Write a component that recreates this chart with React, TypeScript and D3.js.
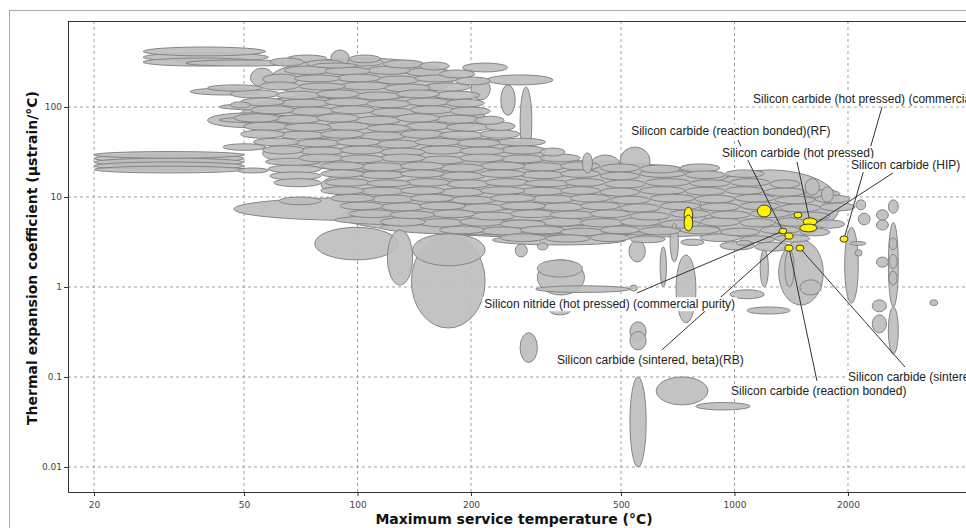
import React, { useEffect, useRef } from 'react';
import * as d3 from 'd3';

// [tMin, tMax, cteMin, cteMax] : max service temperature (°C), thermal expansion (µstrain/°C)
type Range = [number, number, number, number];

const tempTicks = [20, 50, 100, 200, 500, 1000, 2000];
const cteTicks = [0.01, 0.1, 1, 10, 100];
const cteTickLabels = ['0.01', '0.1', '1', '10', '100'];

const familyEnvelopes: Range[] = [
  [58.6, 180, 120, 350], [48.8, 217, 43, 147], [56, 315, 19, 49], [80, 1034, 7.2, 25.8],
  [90, 1850, 3.5, 10.5], [345, 915, 3.78, 22.7], [810, 1905, 3.33, 20],
];

const foams: Range[] = [
  [27, 57, 370, 464], [27, 58, 320, 400], [27, 55, 285, 350], [35, 70, 285, 333],
  [20, 50, 27, 32], [20, 50, 24, 30], [20, 50, 22, 27], [20, 50, 20, 24.5], [20, 50, 18.5, 22],
  [48, 58, 18.5, 21], [44, 57, 33, 39],
];

const polymerEdge: Range[] = [
  [36, 55, 136, 162], [40, 56, 150, 176], [43, 80, 92, 110], [40, 67, 59, 86], [43, 66, 67, 77],
  [46, 52, 98, 114], [52, 60, 167, 270], [57, 80, 22.5, 27], [58, 80, 18.5, 22.7], [58.5, 80, 15.5, 19],
  [60, 80, 13, 16], [62, 80, 8.2, 10], [47, 205, 5.5, 9.8], [85, 95, 285, 430], [65, 83, 315, 378],
  [95, 115, 310, 378],
  [190, 250, 245, 308], [220, 330, 176, 227], [200, 225, 120, 210], [270, 290, 27.6, 167],
  [240, 262, 81, 176], [395, 420, 18.5, 30.9], [415, 497, 17.6, 29.3], [497, 597, 17.6, 35.9],
];

const upperCloud: Range[] = [
  [58.6, 72, 285, 350], [73, 92, 278, 333], [92, 117, 285, 350], [117, 150, 271, 333], [146, 175, 258, 316], [76, 100, 271, 308],
  [64, 85, 230, 285], [82, 108, 227, 278], [106, 138, 230, 285], [134, 176, 220, 271], [165, 205, 210, 258],
  [56, 70, 180, 232], [68, 90, 190, 227], [88, 115, 190, 232], [112, 146, 180, 221], [142, 187, 190, 227], [182, 225, 176, 215],
  [55, 70, 155, 190], [70, 93, 155, 185], [90, 122, 155, 190], [118, 156, 147, 180], [150, 199, 150, 185],
  [46, 62, 126, 155], [61, 80, 122, 150], [78, 101, 126, 155], [99, 130, 120, 147], [127, 165, 126, 155], [160, 211, 122, 150],
  [49, 64, 103, 126], [62, 85, 100, 122], [82, 108, 103, 126], [106, 138, 98, 120], [134, 176, 103, 126], [172, 217, 100, 122],
  [52, 68, 84, 103], [66, 87, 81, 100], [85, 111, 84, 103], [108, 142, 79, 97], [138, 180, 84, 103], [176, 225, 81, 100],
  [47, 62, 68, 84], [60, 80, 66, 81], [78, 101, 68, 84], [99, 130, 64, 79], [127, 165, 68, 84], [160, 211, 66, 81], [205, 245, 64, 79],
  [50, 66, 55, 68], [64, 85, 54, 66], [82, 108, 55, 68], [106, 138, 53, 64], [134, 176, 55, 68], [172, 225, 54, 66], [218, 262, 55, 68],
  [49, 64, 45, 55.5], [62, 82, 44, 54], [80, 104, 45, 55.5], [101, 134, 43, 53], [130, 170, 45, 55.5], [165, 217, 44, 54], [211, 270, 45, 55.5],
  [53, 70, 37, 45], [68, 90, 36, 44], [88, 115, 37, 45], [112, 146, 35, 43], [142, 187, 37, 45], [182, 239, 36, 44], [233, 315, 37, 45],
  [56, 72, 30, 37], [70, 92, 29.3, 36], [90, 117, 30, 37], [115, 151, 28.5, 35], [146, 193, 30, 37], [187, 245, 29.3, 36], [239, 315, 30, 37], [305, 355, 28.5, 35],
  [70, 92, 24.5, 30], [90, 117, 24, 29.3], [115, 151, 24.5, 30], [146, 193, 23.3, 28.5], [187, 245, 24.5, 30], [239, 315, 24, 29.3], [305, 390, 24.5, 30],
];

const lowerCloud: Range[] = [
  [80, 104, 20, 24.5], [101, 134, 19.5, 24], [130, 170, 20, 24.5], [165, 217, 19, 23.3], [211, 278, 20, 24.5], [270, 355, 19.5, 24],
  [345, 440, 20, 24.5], [440, 560, 19, 23.3], [560, 717, 18.5, 22.7], [717, 915, 19, 23.3],
  [80, 104, 16.5, 20], [101, 134, 16, 19.5], [130, 170, 16.5, 20], [165, 217, 15.5, 19], [211, 278, 16.5, 20], [270, 355, 16, 19.5],
  [345, 440, 16.5, 20], [440, 560, 15.5, 19], [560, 740, 16.5, 20], [740, 945, 16, 19.5], [945, 1200, 16.5, 20],
  [82, 108, 13.2, 16], [106, 138, 13, 15.5], [134, 176, 13.2, 16], [172, 225, 12.6, 15.5], [218, 287, 13.2, 16], [278, 366, 13, 15.5],
  [355, 453, 13.2, 16], [453, 580, 12.6, 15.5], [580, 762, 13.2, 16], [762, 973, 13, 15.5], [973, 1242, 13.2, 16], [1242, 1492, 12.6, 15.5],
  [80, 104, 10.7, 13], [101, 134, 10.5, 12.8], [130, 170, 10.7, 13], [165, 217, 10.2, 12.6], [211, 278, 10.7, 13], [270, 355, 10.5, 12.8],
  [345, 440, 10.7, 13], [440, 560, 10.2, 12.6], [560, 740, 10.7, 13], [740, 945, 10.5, 12.8], [945, 1200, 10.7, 13], [1200, 1540, 10.2, 12.6], [1540, 1905, 9.8, 12],
  [85, 111, 8.8, 10.7], [108, 142, 8.6, 10.5], [138, 180, 8.8, 10.7], [176, 232, 8.4, 10.2], [225, 296, 8.8, 10.7], [287, 378, 8.6, 10.5],
  [366, 468, 8.8, 10.7], [468, 597, 8.4, 10.2], [597, 785, 8.8, 10.7], [785, 1003, 8.6, 10.5], [1003, 1280, 8.8, 10.7], [1280, 1635, 8.4, 10.2], [1635, 2025, 8.6, 10.5],
  [90, 117, 7.2, 8.8], [115, 151, 7.0, 8.6], [146, 193, 7.2, 8.8], [187, 245, 6.8, 8.4], [239, 315, 7.2, 8.8], [305, 400, 7.0, 8.6],
  [390, 497, 7.2, 8.8], [497, 635, 6.8, 8.4], [635, 810, 7.2, 8.8], [810, 1034, 7.0, 8.6], [1034, 1320, 7.2, 8.8], [1320, 1686, 6.8, 8.4], [1686, 2090, 7.0, 8.6],
  [95, 126, 5.9, 7.2], [122, 160, 5.75, 7.0], [156, 205, 5.9, 7.2], [199, 262, 5.55, 6.8], [254, 334, 5.9, 7.2], [324, 427, 5.75, 7.0],
  [414, 528, 5.9, 7.2], [528, 675, 5.55, 6.8], [675, 861, 5.9, 7.2], [861, 1099, 5.75, 7.0], [1099, 1404, 5.9, 7.2], [1404, 1792, 5.55, 6.8],
  [115, 151, 4.75, 5.9], [146, 193, 4.65, 5.75], [187, 245, 4.75, 5.9], [239, 315, 4.5, 5.55], [305, 400, 4.75, 5.9], [390, 512, 4.65, 5.75],
  [497, 635, 4.75, 5.9], [635, 810, 4.5, 5.55], [810, 1034, 4.75, 5.9], [1034, 1280, 4.65, 5.75], [1280, 1635, 4.75, 5.9], [1635, 1960, 4.5, 5.55],
  [165, 217, 3.9, 4.75], [211, 278, 3.8, 4.65], [270, 355, 3.9, 4.75], [345, 453, 3.7, 4.5], [440, 560, 3.9, 4.75], [560, 717, 3.8, 4.65],
  [717, 915, 3.9, 4.75], [915, 1168, 3.7, 4.5], [1168, 1492, 3.9, 4.75], [1492, 1792, 3.7, 4.5],
  [239, 315, 3.2, 3.9], [315, 414, 3.15, 3.8], [414, 528, 3.2, 3.9], [528, 655, 3.1, 3.7], [810, 1034, 3.2, 3.9], [1034, 1280, 3.1, 3.7], [1280, 1586, 3.15, 3.8],
  [915, 1130, 2.58, 3.2], [1130, 1404, 2.5, 3.15],
  [115, 480, 3.8, 5.55], [228, 515, 2.93, 3.78], [87, 220, 4.9, 6.3], [324, 915, 4.1, 4.9],
  [1540, 1680, 10.5, 16], [1700, 1830, 8.8, 13],
];

const ceramicsTail: Range[] = [
  [77, 128, 2.0, 4.6], [120, 140, 1.05, 4.3], [139, 218, 0.35, 3.8], [140, 218, 1.72, 3.9],
  [262, 282, 2.16, 3.0], [300, 320, 2.58, 3.1], [300, 400, 0.815, 2.0], [300, 395, 1.29, 2.0],
  [297, 528, 0.87, 1.03], [528, 552, 0.9, 1.05], [324, 366, 0.49, 0.6], [270, 300, 0.145, 0.31],
  [528, 583, 0.25, 0.41], [528, 583, 0.2, 0.32], [528, 583, 0.01, 0.1], [620, 850, 0.049, 0.1],
  [790, 1100, 0.043, 0.052], [700, 790, 0.4, 2.27], [973, 1200, 0.74, 0.93], [1080, 1404, 0.5, 0.6],
  [1310, 1720, 0.63, 3.33], [1490, 1700, 0.815, 1.2], [1360, 1440, 1.0, 2.6], [1170, 1230, 1.0, 2.6],
  [1960, 2130, 0.66, 4.6], [2025, 2230, 2.9, 3.2], [2090, 2180, 2.2, 2.6], [2130, 2290, 4.9, 6.6],
  [2380, 2560, 5.55, 7.2], [2380, 2560, 4.3, 5.55], [2380, 2560, 1.66, 2.15], [2320, 2530, 0.53, 0.72],
  [2320, 2530, 0.31, 0.49], [2560, 2720, 6.6, 9.3], [2560, 2720, 0.6, 5.2], [2570, 2700, 2.6, 3.5],
  [2570, 2700, 1.6, 2.3], [2570, 2700, 1.05, 1.5], [2560, 2720, 0.18, 0.6], [3300, 3460, 0.62, 0.72],
  [2100, 2230, 7.2, 9.3], [525, 580, 1.9, 3.3], [675, 710, 1.9, 5.1], [720, 830, 2.9, 3.4],
  [635, 660, 1.0, 2.8], [1010, 1110, 2.9, 3.3],
];

const siliconGrades: Range[] = [
  [735, 775, 5.1, 7.7], [735, 775, 4.2, 6.3], [1150, 1250, 6.0, 8.15], [1438, 1510, 5.85, 6.8],
  [1520, 1655, 4.8, 5.85], [1490, 1655, 4.1, 5.0], [1905, 2000, 3.15, 3.7], [1312, 1377, 3.9, 4.5],
  [1361, 1430, 3.4, 4.0], [1361, 1430, 2.5, 2.93], [1456, 1528, 2.5, 2.93],
];

const labelNames = [
  'Silicon carbide (hot pressed) (commercial purity)',
  'Silicon carbide (reaction bonded)(RF)',
  'Silicon carbide (hot pressed)',
  'Silicon carbide (HIP)',
  'Silicon nitride (hot pressed) (commercial purity)',
  'Silicon carbide (sintered, beta)(RB)',
  'Silicon carbide (reaction bonded)',
  'Silicon carbide (sintered)',
];
// label anchor (left, middle), leader start, target grade index
const labelAt: [number, number][] = [[1120, 122.7], [532, 54.1], [926, 30.8], [2037, 22.7], [217, 0.647], [338, 0.1545], [979, 0.0699], [2000, 0.1]];
const leaderFrom: [number, number][] = [[2463, 100], [1021, 43], [1465, 24.5], [2633, 18.5], [551, 0.857], [642, 0.2], [1655, 0.0903], [2834, 0.129]];
const leaderTo = [6, 7, 4, 5, 7, 8, 9, 10];

const App = () => {
  const ref = useRef<SVGSVGElement>(null);

  useEffect(() => {
    const svg = d3.select(ref.current);
    svg.selectAll('*').remove();

    const left = 68, top = 21, bottom = 492, right = 1000;
    const x = d3.scaleLog().domain([17.06, 5062]).range([left, right]);
    const y = d3.scaleLog().domain([0.00527, 903]).range([bottom, top]);

    svg.append('rect').attr('x', 9.5).attr('y', 10.5).attr('width', 1000).attr('height', 600)
      .attr('fill', '#fff').attr('stroke', '#a8a8a8');

    svg.append('clipPath').attr('id', 'plotclip')
      .append('rect').attr('x', left).attr('y', top).attr('width', right - left).attr('height', bottom - top);

    const grid = svg.append('g').attr('stroke', '#a0a0a0').attr('stroke-dasharray', '3,3');
    tempTicks.forEach(t => grid.append('line').attr('x1', x(t)).attr('x2', x(t)).attr('y1', top).attr('y2', bottom));
    cteTicks.forEach(c => grid.append('line').attr('x1', left).attr('x2', right).attr('y1', y(c)).attr('y2', y(c)));

    const toEllipse = (r: Range) => {
      const x0 = x(r[0]), x1 = x(r[1]), y0 = y(r[2]), y1 = y(r[3]);
      return { cx: (x0 + x1) / 2, cy: (y0 + y1) / 2, rx: Math.abs(x1 - x0) / 2, ry: Math.abs(y0 - y1) / 2 };
    };

    const plot = svg.append('g').attr('clip-path', 'url(#plotclip)');

    const gray = [...familyEnvelopes, ...foams, ...polymerEdge, ...upperCloud, ...lowerCloud, ...ceramicsTail]
      .map(toEllipse)
      .sort((a, b) => b.rx * b.ry - a.rx * a.ry);

    plot.selectAll('ellipse.mat')
      .data(gray)
      .enter()
      .append('ellipse')
      .attr('class', 'mat')
      .attr('cx', d => d.cx).attr('cy', d => d.cy)
      .attr('rx', d => d.rx).attr('ry', d => d.ry)
      .attr('fill', '#bebebe')
      .attr('fill-opacity', 0.92)
      .attr('stroke', '#858585')
      .attr('stroke-width', 1);

    const grades = siliconGrades.map(toEllipse);

    // leader lines
    leaderTo.forEach((g, i) => {
      plot.append('line')
        .attr('x1', x(leaderFrom[i][0])).attr('y1', y(leaderFrom[i][1]))
        .attr('x2', grades[g].cx).attr('y2', grades[g].cy)
        .attr('stroke', '#333').attr('stroke-width', 1);
    });

    plot.selectAll('ellipse.hl')
      .data(grades)
      .enter()
      .append('ellipse')
      .attr('class', 'hl')
      .attr('cx', d => d.cx).attr('cy', d => d.cy)
      .attr('rx', d => d.rx).attr('ry', d => d.ry)
      .attr('fill', '#fff200')
      .attr('stroke', '#3f3f20')
      .attr('stroke-width', 1);

    // labels with white boxes
    labelNames.forEach((name, i) => {
      const g = svg.append('g');
      const box = g.append('rect').attr('fill', '#fff');
      const txt = g.append('text')
        .attr('x', x(labelAt[i][0])).attr('y', y(labelAt[i][1]))
        .attr('dy', '0.35em')
        .attr('font-family', '"Liberation Sans", Arial, sans-serif')
        .attr('font-size', 12)
        .attr('fill', '#222')
        .text(name);
      const bb = (txt.node() as SVGTextElement).getBBox();
      box.attr('x', bb.x - 2).attr('y', bb.y).attr('width', bb.width + 4).attr('height', bb.height);
    });

    // axes
    const minorX = x.ticks().filter(t => !tempTicks.includes(t));
    const minorY = y.ticks().filter(t => !cteTicks.some(c => Math.abs(c - t) / t < 1e-6));

    const xAxisGroup = svg.append('g').attr('transform', `translate(0, ${bottom})`);
    xAxisGroup.call(d3.axisBottom(x).tickValues(minorX).tickSize(2).tickSizeOuter(0).tickFormat(() => ''));
    xAxisGroup.call(d3.axisBottom(x).tickValues(tempTicks).tickSize(4).tickPadding(6).tickSizeOuter(0).tickFormat(d => String(d)));

    const yAxisGroup = svg.append('g').attr('transform', `translate(${left}, 0)`);
    yAxisGroup.call(d3.axisLeft(y).tickValues(minorY).tickSize(2).tickSizeOuter(0).tickFormat(() => ''));
    yAxisGroup.call(d3.axisLeft(y).tickValues(cteTicks).tickSize(4).tickPadding(2).tickSizeOuter(0)
      .tickFormat((d, i) => cteTickLabels[i]));

    [xAxisGroup, yAxisGroup].forEach(ax => {
      ax.selectAll('path.domain').attr('stroke', '#333');
      ax.selectAll('line').attr('stroke', '#333');
      ax.selectAll('text')
        .attr('font-family', '"DejaVu Sans", Verdana, sans-serif')
        .attr('font-size', 9)
        .attr('fill', '#444');
    });

    svg.append('line').attr('x1', left).attr('x2', right).attr('y1', top + 0.5).attr('y2', top + 0.5)
      .attr('stroke', '#333');

    svg.append('text')
      .attr('x', 514).attr('y', 519).attr('dy', '0.35em')
      .attr('text-anchor', 'middle')
      .attr('font-family', '"DejaVu Sans", Verdana, sans-serif')
      .attr('font-weight', 'bold').attr('font-size', 14)
      .attr('fill', '#111')
      .text('Maximum service temperature (°C)');

    svg.append('text')
      .attr('transform', 'translate(32, 258) rotate(-90)')
      .attr('dy', '0.35em')
      .attr('text-anchor', 'middle')
      .attr('font-family', '"DejaVu Sans", Verdana, sans-serif')
      .attr('font-weight', 'bold').attr('font-size', 14)
      .attr('fill', '#111')
      .text('Thermal expansion coefficient (µstrain/°C)');
  }, []);

  return (
    <svg ref={ref} width={966} height={528}
      style={{ position: 'absolute', left: 0, top: 0, display: 'block', background: '#fff' }} />
  );
};

export default App;
